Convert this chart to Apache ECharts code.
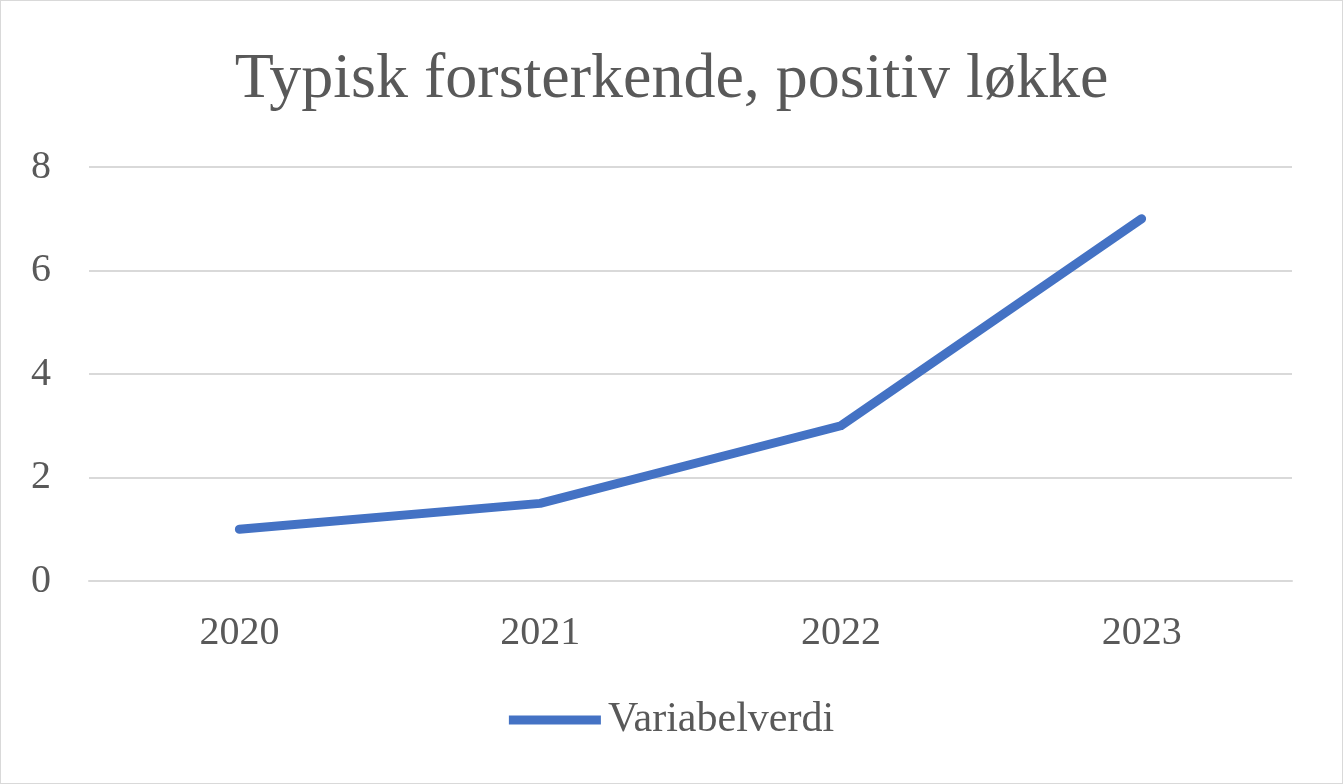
<!DOCTYPE html>
<html>
<head>
<meta charset="utf-8">
<script src="https://cdn.jsdelivr.net/npm/echarts@6/dist/echarts.min.js"></script>
<style>
html,body{margin:0;padding:0;background:#fff;}
#c{width:1343px;height:784px;box-sizing:border-box;border:1.5px solid #d9d9d9;}
</style>
</head>
<body>
<div id="c"></div>
<script>
const categories = ['2020', '2021', '2022', '2023'];
const values = [1, 1.5, 3, 7];
const seriesName = 'Variabelverdi';
const titleText = 'Typisk forsterkende, positiv løkke';

const chart = echarts.init(document.getElementById('c'));
const font = '"Liberation Serif", "Times New Roman", serif';
chart.setOption({
  animation: false,
  title: {
    text: titleText,
    left: 'center',
    top: 42,
    textStyle: {fontFamily: font, fontSize: 64, fontWeight: 'normal', color: '#595959'}
  },
  legend: {
    bottom: 37,
    left: 'center',
    itemWidth: 92,
    itemHeight: 9,
    itemGap: 10,
    icon: 'rect',
    data: [{name: seriesName, icon: 'rect'}],
    textStyle: {fontFamily: font, fontSize: 42, color: '#595959', padding: [0,0,0,2]}
  },
  grid: {left: 88, right: 50, top: 166, bottom: 202, containLabel: false},
  xAxis: {
    type: 'category',
    data: categories,
    boundaryGap: true,
    axisLine: {show: true, lineStyle: {color: '#d9d9d9', width: 2}},
    axisTick: {show: false},
    axisLabel: {fontFamily: font, fontSize: 40, color: '#595959', margin: 32}
  },
  yAxis: {
    type: 'value',
    min: 0, max: 8, interval: 2,
    axisLine: {show: false},
    axisTick: {show: false},
    splitLine: {lineStyle: {color: '#d9d9d9', width: 2}},
    axisLabel: {fontFamily: font, fontSize: 40, color: '#595959', margin: 48, align: 'center'}
  },
  series: [{
    name: seriesName,
    type: 'line',
    data: values,
    symbol: 'none',
    lineStyle: {color: '#4472C4', width: 9, cap: 'round', join: 'round'},
    itemStyle: {color: '#4472C4'}
  }]
});
</script>
</body>
</html>
